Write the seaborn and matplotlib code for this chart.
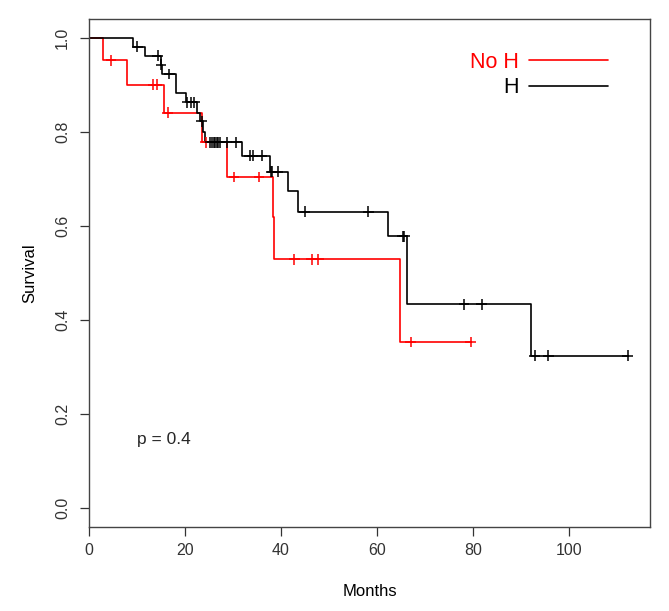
import numpy as np
import pandas as pd
import matplotlib
matplotlib.use('Agg')
import matplotlib.pyplot as plt
import seaborn as sns

# Kaplan-Meier step curves (time in months, survival)
noh_time = [0, 3.0, 8.0, 15.6, 23.6, 28.7, 38.3, 38.6, 64.7, 79.5]
noh_surv = [1.0, 0.952, 0.900, 0.841, 0.778, 0.704, 0.619, 0.529, 0.353, 0.353]
noh_cens = [4.6, 13.4, 14.1, 16.4, 24.3, 30.2, 35.4, 42.8, 46.4, 47.8, 67.0, 79.5]

h_time = [0, 9.2, 11.7, 15.0, 15.3, 18.1, 20.2, 22.4, 23.2, 23.8, 24.2,
          31.8, 37.6, 41.5, 43.5, 62.2, 66.2, 92.1, 112.2]
h_surv = [1.0, 0.981, 0.962, 0.943, 0.923, 0.883, 0.863, 0.841, 0.822, 0.800, 0.778,
          0.749, 0.715, 0.674, 0.630, 0.578, 0.433, 0.324, 0.324]
h_cens = [10.1, 14.3, 15.0, 16.7, 20.5, 21.3, 21.9, 23.5, 25.2, 25.6, 26.0, 26.3,
          26.6, 26.9, 27.2, 28.7, 30.7, 33.5, 34.1, 36.0, 37.9, 38.2, 39.3,
          44.9, 58.2, 65.3, 65.7, 78.1, 81.8, 92.8, 95.7, 112.2]

groups = ['No H', 'H']
colors = {'No H': '#ff0000', 'H': '#000000'}
p_label = 'p = 0.4'


def surv_at(times, surv, t):
    idx = np.searchsorted(times, t, side='right') - 1
    return np.asarray(surv)[idx]


curves = pd.concat([
    pd.DataFrame({'time': noh_time, 'surv': noh_surv, 'group': 'No H'}),
    pd.DataFrame({'time': h_time, 'surv': h_surv, 'group': 'H'}),
])
cens = pd.concat([
    pd.DataFrame({'time': noh_cens, 'surv': surv_at(noh_time, noh_surv, noh_cens), 'group': 'No H'}),
    pd.DataFrame({'time': h_cens, 'surv': surv_at(h_time, h_surv, h_cens), 'group': 'H'}),
])

sns.set_theme(style='ticks')
plt.rcParams['font.family'] = ['Liberation Sans', 'DejaVu Sans']

fig = plt.figure(figsize=(6.69, 6.11), dpi=100)
ax = fig.add_axes([0.133, 0.1375, 0.839, 0.8315])

sns.lineplot(data=curves, x='time', y='surv', hue='group', hue_order=groups,
             palette=colors, estimator=None, sort=False, drawstyle='steps-post',
             linewidth=1.2, legend=False, ax=ax)
sns.scatterplot(data=cens, x='time', y='surv', hue='group', hue_order=groups,
                palette=colors, marker='+', s=60, linewidth=1.1, legend=False,
                ax=ax, zorder=3)

ax.set_xlim(0, 116.9)
ax.set_ylim(-0.04, 1.04)
ax.set_xticks([0, 20, 40, 60, 80, 100])
ax.set_yticks([0.0, 0.2, 0.4, 0.6, 0.8, 1.0])
ax.set_yticklabels(['0.0', '0.2', '0.4', '0.6', '0.8', '1.0'], rotation=90, va='center')
ax.tick_params(axis='both', labelsize=11.5, length=6.5, width=0.9, pad=5,
               colors='#333333', labelcolor='#333333')
ax.tick_params(axis='y', pad=7)
for sp in ax.spines.values():
    sp.set_visible(True)
    sp.set_linewidth(1.0)
    sp.set_color('#444444')

ax.set_xlabel('Months', fontsize=12, labelpad=19, color='black')
ax.set_ylabel('Survival', fontsize=12, labelpad=13, color='black')

ax.text(10, 0.147, p_label, fontsize=12.5, va='center', ha='left')

ax.legend(ax.lines[:2], groups, loc='upper right', bbox_to_anchor=(0.925, 0.935),
          frameon=False, markerfirst=False, fontsize=15.5, handlelength=3.7,
          handletextpad=0.45, labelspacing=0.2, borderpad=0, borderaxespad=0,
          labelcolor=[colors[g] for g in groups])

fig.savefig('out.png', dpi=100)
